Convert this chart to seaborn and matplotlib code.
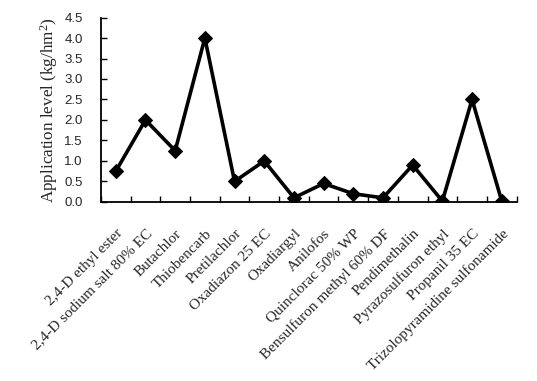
import numpy as np
import pandas as pd
import matplotlib
matplotlib.use("Agg")
import matplotlib.pyplot as plt
import seaborn as sns
from matplotlib.ticker import FixedLocator, NullFormatter, FormatStrFormatter

categories = [
    "2,4-D ethyl ester",
    "2,4-D sodium salt 80% EC",
    "Butachlor",
    "Thiobencarb",
    "Pretilachlor",
    "Oxadiazon 25 EC",
    "Oxadiargyl",
    "Anilofos",
    "Quinclorac 50% WP",
    "Bensulfuron methyl 60% DF",
    "Pendimethalin",
    "Pyrazosulfuron ethyl",
    "Propanil 35 EC",
    "Trizolopyramidine sulfonamide",
]
values = [0.75, 2.0, 1.25, 4.0, 0.5, 1.0, 0.1, 0.45, 0.2, 0.1, 0.9, 0.02, 2.5, 0.02]
y_ticks = [0.0, 0.5, 1.0, 1.5, 2.0, 2.5, 3.0, 3.5, 4.0, 4.5]

df = pd.DataFrame({"pos": np.arange(len(categories)), "value": values})

sns.set_style("white")
plt.rcParams["mathtext.fontset"] = "custom"
plt.rcParams["mathtext.rm"] = "Liberation Serif"
plt.rcParams["mathtext.it"] = "Liberation Serif:italic"

fig = plt.figure(figsize=(5.37, 3.81), dpi=100)
ax = fig.add_axes([0.188, 0.47, 0.774, 0.484])

sns.lineplot(data=df, x="pos", y="value", ax=ax, color="black", linewidth=2.6,
             marker="D", markersize=7.5, markeredgecolor="black",
             markerfacecolor="black")

n = len(categories)
ax.set_xlim(-0.5, n - 0.5)
ax.set_ylim(0, 4.5)

ax.xaxis.set_major_locator(FixedLocator(np.arange(-0.5, n, 1.0)))
ax.xaxis.set_major_formatter(NullFormatter())
ax.xaxis.set_minor_locator(FixedLocator(np.arange(n)))
ax.set_xticklabels(categories, minor=True, rotation=45, ha="right",
                   rotation_mode="anchor", family="Liberation Serif", fontsize=11)
ax.tick_params(axis="x", which="major", direction="in", length=4, width=1,
               color="black", bottom=True)
ax.tick_params(axis="x", which="minor", length=0, pad=18)

ax.set_yticks(y_ticks)
ax.yaxis.set_major_formatter(FormatStrFormatter("%.1f"))
ax.tick_params(axis="y", direction="in", length=4, width=1, color="black",
               left=True, pad=13)
for lab in ax.get_yticklabels():
    lab.set_family("Liberation Sans")
    lab.set_fontsize(9.5)

ax.set_xlabel("")
ax.set_ylabel("Application level (kg/hm$^\\mathregular{2}$)", family="Liberation Serif",
              fontsize=12.3, labelpad=3)

for s in ["top", "right"]:
    ax.spines[s].set_visible(False)
for s in ["left", "bottom"]:
    ax.spines[s].set_color("black")
    ax.spines[s].set_linewidth(1.3)

fig.savefig("out.png", dpi=100)
